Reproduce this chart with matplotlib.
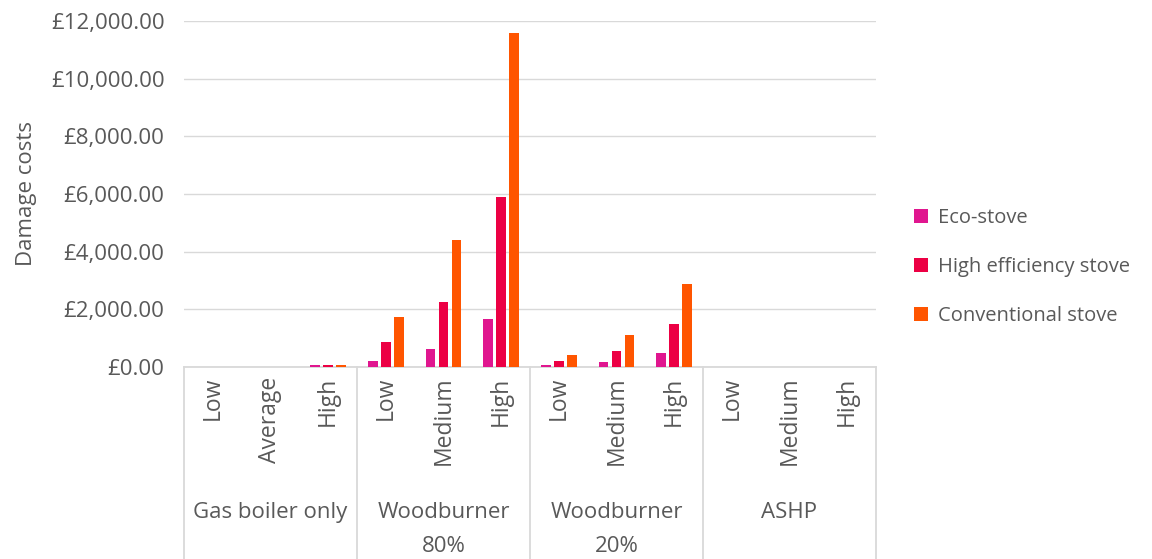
"""Damage costs by heating scenario and stove type."""

import numpy as np
import matplotlib.pyplot as plt
from matplotlib.patches import Patch
from matplotlib.transforms import blended_transform_factory

plt.rcParams["font.family"] = ["Open Sans", "DejaVu Sans"]

# =============================================================================
# Data
GROUPS = ["Gas boiler only", "Woodburner\n80%", "Woodburner\n20%", "ASHP"]
LEVELS = [["Low", "Average", "High"],
          ["Low", "Medium", "High"],
          ["Low", "Medium", "High"],
          ["Low", "Medium", "High"]]

SERIES = ["Eco-stove", "High efficiency stove", "Conventional stove"]
eco_stove = [0, 10, 80, 220, 620, 1650, 60, 170, 470, 0, 0, 0]
high_eff_stove = [0, 10, 80, 870, 2250, 5900, 200, 570, 1500, 0, 0, 0]
conventional_stove = [0, 10, 80, 1730, 4400, 11580, 430, 1100, 2870, 0, 0, 0]

COLORS = ["#E0168F", "#EC0044", "#FF5500"]
TEXT = "#595959"
GRID = "#D9D9D9"
FS = 16

# =============================================================================
# Plot
fig = plt.figure(figsize=(11.52, 5.59), dpi=100)
ax = fig.add_axes([0.1597, 0.3435, 0.6007, 0.619])

x = np.arange(len(eco_stove))
step = 0.225
width = 0.165
for i, (vals, col) in enumerate(zip([eco_stove, high_eff_stove, conventional_stove], COLORS)):
    ax.bar(x + (i - 1) * step, vals, width=width, color=col, zorder=3)

ax.set_xlim(-0.5, len(x) - 0.5)
ax.set_ylim(0, 12000)
ax.set_yticks(np.arange(0, 12001, 2000))
ax.set_yticklabels([f"£{v:,.2f}" for v in np.arange(0, 12001, 2000)])
ax.yaxis.grid(True, color=GRID, linewidth=1)
ax.set_axisbelow(True)
for side in ["left", "right", "top"]:
    ax.spines[side].set_visible(False)
ax.spines["bottom"].set_color(GRID)
ax.spines["bottom"].set_linewidth(1.3)

ax.tick_params(axis="y", length=0, pad=14, labelsize=FS, labelcolor=TEXT)
ax.set_ylabel("Damage costs", fontsize=FS, color=TEXT, labelpad=10)

labels = [lab for grp in LEVELS for lab in grp]
ax.set_xticks(x)
ax.set_xticklabels(labels, rotation=90, fontsize=FS + 0.5, color=TEXT)
ax.tick_params(axis="x", length=0, pad=7)

# Group separators and group labels below the axis
trans = blended_transform_factory(ax.transData, ax.transAxes)
for b in np.arange(-0.5, len(x), 3):
    ax.plot([b, b], [0, -0.56], transform=trans, color=GRID, linewidth=1.3,
            clip_on=False)
for g, name in enumerate(GROUPS):
    ax.text(g * 3 + 1, -0.39, name, transform=trans, ha="center", va="top",
            fontsize=FS, color=TEXT, linespacing=1.8)

handles = [Patch(facecolor=c, label=s) for s, c in zip(SERIES, COLORS)]
fig.legend(handles=handles, loc="center left", bbox_to_anchor=(0.778, 0.522),
           frameon=False, fontsize=14.5, labelcolor=TEXT, handlelength=0.7,
           handleheight=0.7, handletextpad=0.45, labelspacing=1.45)

fig.savefig("out.png", dpi=100)
